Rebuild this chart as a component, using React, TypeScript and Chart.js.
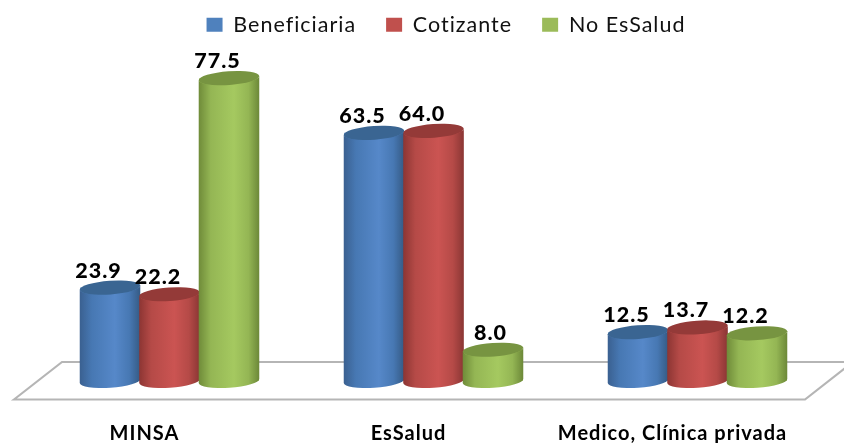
import React, { useEffect, useRef } from "react";
import { Chart, registerables } from "chart.js";

Chart.register(...registerables);

const categories = ["MINSA", "EsSalud", "Medico, Clínica privada"];
const seriesNames = ["Beneficiaria", "Cotizante", "No EsSalud"];
const beneficiaria = [23.9, 63.5, 12.5];
const cotizante = [22.2, 64.0, 13.7];
const noEsSalud = [77.5, 8.0, 12.2];

const legendColors = ["#4f81bd", "#c0504d", "#9bbb59"];
const palette = [
  { edgeL: "#3a6090", mid: "#4778b3", light: "#5688c9", edgeR: "#355a84", cap: "#3a6592" },
  { edgeL: "#8c3533", mid: "#b54a47", light: "#cb5452", edgeR: "#8a3634", cap: "#943a38" },
  { edgeL: "#6f8b39", mid: "#94b654", light: "#a5c960", edgeR: "#6c8838", cap: "#779441" },
];
const FONT = "Lato, 'Open Sans', sans-serif";

const cylinders = {
  id: "cylinders",
  beforeUpdate(chart: any) {
    chart.ctx.letterSpacing = "1px";
  },
  beforeDatasetsDraw(chart: any) {
    const { ctx, scales } = chart;
    const y0 = scales.y.getPixelForValue(0);
    const a = chart.chartArea;
    const front = y0 + 18.5;
    const back = y0 - 19;
    ctx.save();
    ctx.filter = "blur(0.5px)";
    ctx.beginPath();
    ctx.moveTo(a.left - 23.5, front);
    ctx.lineTo(a.left + 24.5, back);
    ctx.lineTo(a.right + 23.5, back);
    ctx.lineTo(a.right - 24.5, front);
    ctx.closePath();
    ctx.strokeStyle = "#b5b5b5";
    ctx.lineWidth = 2.2;
    ctx.stroke();
    ctx.restore();
  },
  afterDatasetsDraw(chart: any) {
    const { ctx } = chart;
    const rot = (-4 * Math.PI) / 180;
    const ry = 6.8;
    chart.data.datasets.forEach((_d: any, di: number) => {
      const meta = chart.getDatasetMeta(di);
      const c = palette[di];
      meta.data.forEach((bar: any) => {
        const rx = bar.width / 2 + 0.6;
        const cx = bar.x;
        const top = bar.y;
        const base = bar.base;
        const g = ctx.createLinearGradient(cx - rx, 0, cx + rx, 0);
        g.addColorStop(0, c.edgeL);
        g.addColorStop(0.2, c.mid);
        g.addColorStop(0.58, c.light);
        g.addColorStop(0.82, c.mid);
        g.addColorStop(1, c.edgeR);
        ctx.save();
        ctx.filter = "blur(0.6px)";
        ctx.beginPath();
        ctx.ellipse(cx, top, rx, ry, rot, Math.PI, 0, true);
        ctx.ellipse(cx, base, rx, ry, rot, 0, Math.PI, false);
        ctx.closePath();
        ctx.fillStyle = g;
        ctx.fill();
        ctx.beginPath();
        ctx.ellipse(cx, top, rx, ry, rot, 0, Math.PI * 2);
        ctx.fillStyle = c.cap;
        ctx.fill();
        ctx.restore();
      });
    });
    // value labels
    ctx.save();
    ctx.font = `900 21.5px ${FONT}`;
    ctx.fillStyle = "#000";
    ctx.textAlign = "center";
    ctx.textBaseline = "middle";
    chart.data.datasets.forEach((d: any, di: number) => {
      const meta = chart.getDatasetMeta(di);
      meta.data.forEach((bar: any, i: number) => {
        const dx = d.data[i] < 10 ? -2.5 : -11.5;
        ctx.fillText(d.data[i].toFixed(1), bar.x + dx, bar.y - 17);
      });
    });
    ctx.restore();
  },
  afterLayout(chart: any) {
    const l = chart.legend;
    if (l) {
      l.left += 12.5;
      l.right += 12.5;
      l.top -= 1;
      l.bottom -= 1;
    }
  },
};

export default function App() {
  const ref = useRef<HTMLCanvasElement | null>(null);
  useEffect(() => {
    document.body.style.margin = "0";
    const values = [beneficiaria, cotizante, noEsSalud];
    const chart = new Chart(ref.current as HTMLCanvasElement, {
      type: "bar",
      data: {
        labels: categories,
        datasets: seriesNames.map((name, i) => ({
          label: name,
          data: values[i],
          backgroundColor: legendColors[i],
          borderWidth: 0,
          barPercentage: 1,
          categoryPercentage: 0.676,
        })),
      },
      options: {
        animation: false,
        responsive: false,
        devicePixelRatio: 1,
        layout: { padding: { left: 37.5, right: 14.5, top: -15, bottom: 0 } },
        plugins: {
          legend: {
            display: true,
            position: "top",
            labels: {
              boxWidth: 16,
              boxHeight: 14,
              padding: 30,
              color: "#111",
              font: { family: FONT, size: 21.5 },
            },
          },
          tooltip: { enabled: false },
        },
        scales: {
          x: {
            grid: { display: false },
            border: { display: false },
            afterFit: (s: any) => {
              s.height = 62;
              s.paddingLeft = 0;
              s.paddingRight = 0;
            },
            ticks: {
              padding: 33,
              labelOffset: -25,
              maxRotation: 0,
              autoSkip: false,
              color: "#000",
              font: { family: FONT, size: 20, weight: "bold" },
            },
          },
          y: { display: false, min: 0, max: 85.6 },
        },
      },
      plugins: [cylinders],
    } as any);
    return () => chart.destroy();
  }, []);
  return (
    <div style={{ position: "absolute", left: 0, top: 0, width: 844, height: 443 }}>
      <canvas ref={ref} width={844} height={443} style={{ display: "block" }} />
    </div>
  );
}
